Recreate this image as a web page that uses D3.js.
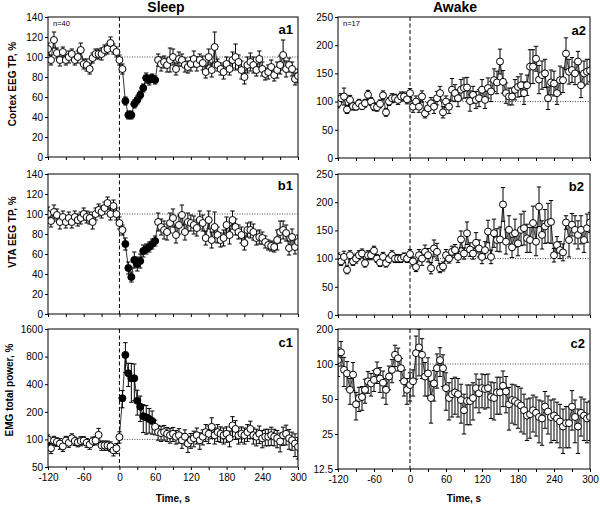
<!DOCTYPE html>
<html><head><meta charset="utf-8">
<script src="https://cdn.jsdelivr.net/npm/d3@7"></script>
<style>body{margin:0;background:#fff}svg{display:block}text{font-family:"Liberation Sans",Arial,sans-serif}</style>
</head><body><svg id="c" width="600" height="507"></svg>
<script>
// time bins (s)
const times = d3.range(-120, 301, 5);
const xTicks = [-120,-90,-60,-30,0,30,60,90,120,150,180,210,240,270,300];
const xTickLabels = [-120,-60,0,60,120,180,240,300];
const ticksEEGSleep = [0,20,40,60,80,100,120,140];
const ticksEEGAwake = [0,50,100,150,200,250];
const ticksEMGSleep = [50,100,200,400,800,1600];
const ticksEMGAwake = [12.5,25,50,100,200];

// a1: Cortex EEG TP, sleep
const a1Mean = [108,97,117,104,97,105,97,100,103,97,100,107,93,92,88,99,103,103,103,107,108,114,108,105,97,
 88, 56,42,42,53,57,62,69,79,77,79,77,
 97,93,95,92,97,100,88,98,97,92,90,93,98,93,97,94,85,100,87,110,92,88,85,93,88,97,100,95,87,80,92,95,92,87,98,88,83,85,90,82,87,92,102,88,92,88,78,81];
const a1Err = [6,5,8,5,6,5,5,6,5,5,6,7,5,6,5,5,5,5,6,5,5,6,5,5,5,
 5, 4,4,4,4,4,4,4,5,5,4,4,
 6,7,6,7,12,8,6,7,6,7,6,7,8,7,6,7,6,8,7,15,6,6,7,7,6,8,13,7,9,7,8,9,8,6,8,7,6,7,7,6,8,9,15,8,7,7,6,7];
const a1Filled = [10,15,20,25,30,35,40,45,50,55,60];

// b1: VTA EEG TP, sleep
const b1Mean = [100,93,102,99,92,97,92,96,92,97,94,96,100,97,96,92,100,104,102,106,111,100,108,100,91,
 84, 70,46,37,54,50,53,63,65,67,70,73,
 92,87,84,82,91,96,79,89,99,82,92,91,89,86,94,91,76,94,74,87,79,74,76,89,79,94,87,82,79,71,84,84,82,76,77,76,72,69,68,67,74,82,84,81,66,77,67,72];
const b1Err = [7,6,7,6,7,6,6,6,6,6,6,6,6,6,6,7,6,6,6,6,6,6,6,6,6,
 5, 6,6,5,8,7,7,6,5,5,5,5,
 9,8,9,8,10,9,8,9,10,8,9,8,9,8,9,8,7,9,8,15,8,7,8,8,9,9,8,7,8,7,7,8,8,7,7,6,6,5,5,5,10,11,9,8,7,8,7,7];
const b1Filled = [10,15,20,25,30,35,40,45,50,55,60];

// c1: EMG total power, sleep
const c1Mean = [100,80,97,94,90,84,97,92,103,96,93,96,97,92,88,96,97,112,86,86,86,84,76,80,106,
 281,835,527,464,464,264,227,179,174,167,159,
 137,120,117,120,115,111,115,107,111,98,107,90,98,103,111,98,107,120,115,137,111,120,115,111,115,103,142,130,111,115,111,120,130,111,107,115,103,107,107,111,107,103,95,111,115,103,98,90,83];
const c1Err = [12,10,11,10,12,10,11,10,12,10,10,11,10,10,10,10,10,20,10,10,10,10,10,10,15,
 60,300,150,210,200,80,70,60,60,50,45,
 25,22,22,22,20,20,20,18,20,18,20,18,18,20,22,20,20,25,25,35,22,25,22,22,22,20,35,30,22,22,22,25,28,22,22,25,22,22,22,25,22,22,22,25,28,25,22,25,22];
const c1Filled = [5,10,15,20,25,30,35,40,45,50,55];

// a2: Cortex EEG TP, awake
const a2Mean = [97,106,109,86,103,92,91,97,92,97,112,100,91,90,96,111,81,100,106,106,103,109,109,104,115,
 91,100,91,109,79,88,97,91,106,115,81,100,91,121,115,106,121,124,125,101,112,103,106,121,103,124,118,138,134,171,135,115,109,109,121,126,129,115,129,162,162,176,139,147,150,106,134,132,115,138,138,185,153,156,150,171,129,150,153,155];
const a2Err = [8,8,15,7,8,7,6,7,6,7,8,7,7,7,7,8,7,7,8,7,8,8,8,8,8,
 10,10,10,10,8,10,10,12,12,12,10,10,12,20,15,15,18,18,18,18,15,15,15,18,15,18,18,20,20,22,20,18,15,15,18,18,20,20,18,30,30,22,25,25,25,20,22,22,20,25,22,28,22,22,20,18,22,22,22,20];

// b2: VTA EEG TP, awake
const b2Mean = [102,95,103,80,106,95,100,106,109,92,106,106,114,100,93,103,92,99,106,100,100,100,103,100,108,
 95,85,106,100,112,106,83,118,112,83,86,106,100,112,115,103,134,109,145,116,109,128,118,103,115,148,103,145,133,134,196,130,151,120,145,127,151,154,136,133,163,130,192,142,157,163,165,106,124,115,111,164,133,160,151,142,151,133,154,164];
const b2Err = [8,7,10,7,8,7,8,8,8,7,8,8,8,7,7,8,7,7,8,7,7,7,7,7,8,
 8,8,10,12,12,12,10,15,15,8,8,10,8,10,10,10,15,10,20,12,10,18,15,12,15,20,12,25,20,22,30,22,25,18,25,22,28,30,25,22,30,25,35,25,30,35,38,12,15,15,15,12,30,20,25,25,25,22,25,18];

// c2: EMG total power, awake
const c2Mean = [108,126,89,83,60,81,45,51,52,60,71,68,73,86,75,69,60,78,89,120,112,92,71,60,66,
 71,124,139,120,78,83,51,68,92,108,92,62,51,55,57,55,49,40,48,48,51,62,56,62,61,62,52,51,57,57,65,58,45,49,48,46,44,40,36,37,40,38,35,34,43,39,35,36,34,32,29,31,31,43,35,29,38,36,34,35];
const c2Err = [30,30,25,22,15,22,12,12,12,14,15,15,15,18,18,18,15,18,20,25,25,20,18,15,18,
 18,50,60,45,25,30,20,20,30,30,28,22,18,20,20,20,18,15,18,18,18,20,18,20,20,20,18,18,20,20,22,20,18,18,18,18,18,15,14,14,14,14,14,14,15,14,14,14,13,13,12,12,12,16,14,12,14,14,13,13];

const svg = d3.select("#c");

const L = {x0:48, x1:298}, R = {x0:338, x1:590};
const panels = [
 {id:"a1", col:L, y0:17, y1:157, mean:a1Mean, err:a1Err, filled:a1Filled, domain:[0,140], ticks:ticksEEGSleep, n:"n=40", lx:293, ly:34},
 {id:"b1", col:L, y0:174, y1:314, mean:b1Mean, err:b1Err, filled:b1Filled, domain:[0,140], ticks:ticksEEGSleep, lx:293, ly:190},
 {id:"c1", col:L, y0:329, y1:467, mean:c1Mean, err:c1Err, filled:c1Filled, domain:[50,1600], ticks:ticksEMGSleep, log:true, bottom:true, lx:293, ly:347},
 {id:"a2", col:R, y0:17, y1:158, mean:a2Mean, err:a2Err, filled:[], domain:[0,250], ticks:ticksEEGAwake, n:"n=17", lx:586, ly:35},
 {id:"b2", col:R, y0:174, y1:315, mean:b2Mean, err:b2Err, filled:[], domain:[0,250], ticks:ticksEEGAwake, lx:584, ly:191},
 {id:"c2", col:R, y0:329, y1:469, mean:c2Mean, err:c2Err, filled:[], domain:[12.5,200], ticks:ticksEMGAwake, log:true, bottom:true, lx:585, ly:348},
];

panels.forEach(p => {
 const x = d3.scaleLinear().domain([-120,300]).range([p.col.x0, p.col.x1]);
 const y = (p.log ? d3.scaleLog().base(2) : d3.scaleLinear()).domain(p.domain).range([p.y1, p.y0]);
 const g = svg.append("g");
 g.append("clipPath").attr("id","clip-"+p.id).append("rect")
  .attr("x", p.col.x0).attr("y", p.y0).attr("width", p.col.x1-p.col.x0).attr("height", p.y1-p.y0);
 const pg = g.append("g").attr("clip-path","url(#clip-"+p.id+")");
 // reference lines
 pg.append("line").attr("x1",x(0)).attr("x2",x(0)).attr("y1",p.y0).attr("y2",p.y1)
  .attr("stroke","#000").attr("stroke-width",1).attr("stroke-dasharray","4,2.5");
 pg.append("line").attr("x1",x(0)).attr("x2",p.col.x1).attr("y1",y(100)).attr("y2",y(100))
  .attr("stroke","#333").attr("stroke-width",0.9).attr("stroke-dasharray","1,1.5");
 const data = times.map((t,i) => ({t, v:p.mean[i], e:p.err[i], f:p.filled.includes(t)}));
 const lo = d => Math.max(p.domain[0]*0.9, d.v - d.e);
 // error bars
 pg.selectAll(".eb").data(data).join("path")
  .attr("d", d => {
   const xx = x(d.t), yt = y(d.v + d.e), yb = y(lo(d));
   return `M${xx},${yb}V${yt}M${xx-2.2},${yt}H${xx+2.2}M${xx-2.2},${yb}H${xx+2.2}`;
  })
  .attr("stroke","#000").attr("stroke-width",1).attr("fill","none");
 // connecting line
 pg.append("path").datum(data)
  .attr("d", d3.line().x(d=>x(d.t)).y(d=>y(d.v)))
  .attr("fill","none").attr("stroke","#000").attr("stroke-width",0.8);
 // markers
 pg.selectAll("circle").data(data).join("circle")
  .attr("cx", d=>x(d.t)).attr("cy", d=>y(d.v)).attr("r",3.5)
  .attr("fill", d=> d.f ? "#000" : "#fff").attr("stroke","#000").attr("stroke-width",1);
 // frame
 g.append("rect").attr("x",p.col.x0).attr("y",p.y0).attr("width",p.col.x1-p.col.x0).attr("height",p.y1-p.y0)
  .attr("fill","none").attr("stroke","#000").attr("stroke-width",1);
 // axes
 const ya = g.append("g").attr("transform",`translate(${p.col.x0},0)`)
  .call(d3.axisLeft(y).tickValues(p.ticks).tickSize(3).tickPadding(2).tickFormat(d => String(d)));
 const xa = g.append("g").attr("transform",`translate(0,${p.y1})`)
  .call(d3.axisBottom(x).tickValues(xTicks).tickSize(3).tickPadding(4)
   .tickFormat(d => p.bottom && xTickLabels.includes(d) ? String(d) : ""));
 [ya, xa].forEach(a => {
  a.select(".domain").remove();
  a.selectAll("line").attr("stroke","#000");
  a.selectAll("text").attr("fill","#000").style("font-size","10px").style("font-family",'"Liberation Sans",Arial,sans-serif');
 });
 // panel label
 g.append("text").attr("x",p.lx).attr("y",p.ly).attr("text-anchor","end")
  .style("font-size","13px").style("font-weight","bold").text(p.id);
 if (p.n) g.append("text").attr("x",p.col.x0+5).attr("y",p.y0+9).style("font-size","7.5px").text(p.n);
 if (p.bottom) g.append("text").attr("x",(p.col.x0+p.col.x1)/2).attr("y",502).attr("text-anchor","middle")
  .style("font-size","10px").style("font-weight","bold").text("Time, s");
});

// titles
svg.append("text").attr("x",166).attr("y",12).attr("text-anchor","middle").style("font-size","14px").style("font-weight","bold").text("Sleep");
svg.append("text").attr("x",455).attr("y",12).attr("text-anchor","middle").style("font-size","14px").style("font-weight","bold").text("Awake");

// y axis titles
[["Cortex EEG TP, %",12,84],["VTA EEG TP, %",12,232],["EMG total power, %",9,390]].forEach(([t,xx,yy]) => {
 svg.append("text").attr("transform",`translate(${xx+3.5},${yy}) rotate(-90)`).attr("text-anchor","middle")
  .style("font-size","10px").style("font-weight","bold").text(t);
});
</script></body></html>
